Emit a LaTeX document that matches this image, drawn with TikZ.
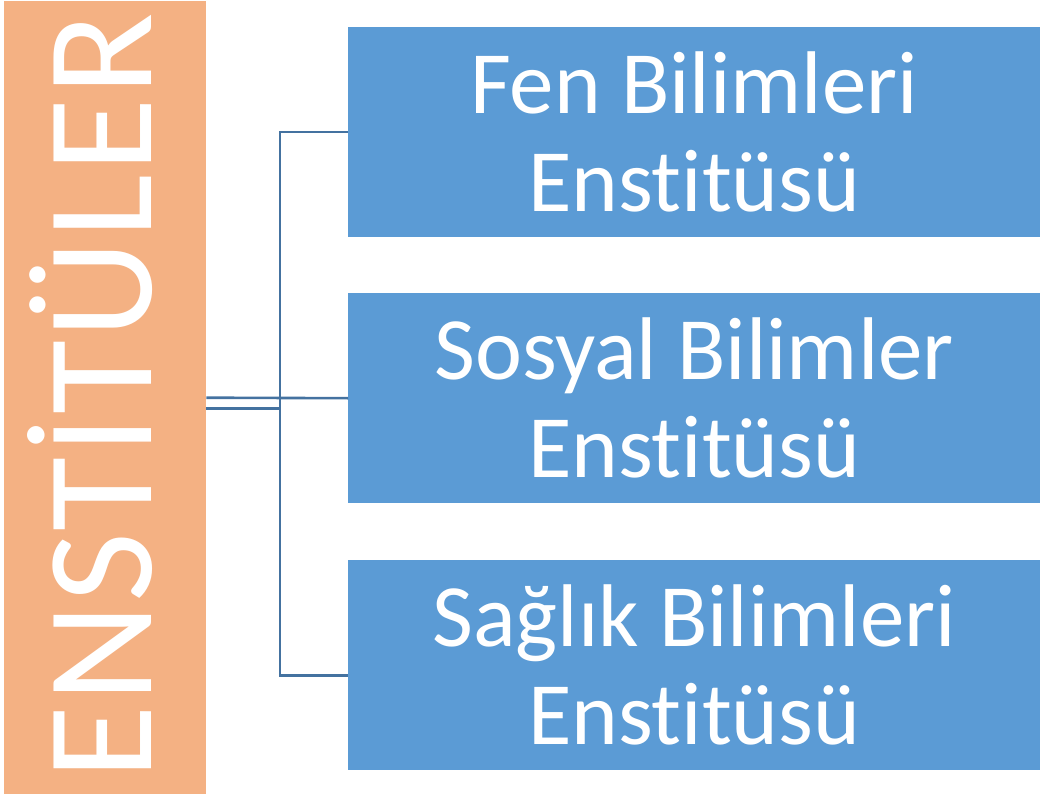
\documentclass[tikz,border=0pt]{standalone}
\usepackage{fontspec}
\setmainfont{Carlito}[Ligatures=CommonOff]
\newfontfamily\spacedfont{Carlito}[LetterSpace=1.5]
\definecolor{peach}{RGB}{244,177,131}
\definecolor{boxblue}{RGB}{91,155,213}
\definecolor{linkblue}{RGB}{68,114,160}
\usetikzlibrary{positioning}

\begin{document}
\begin{tikzpicture}[x=1pt, y=-1pt,
    unit/.style={fill=boxblue, text=white, align=center, inner sep=0pt,
        minimum width=692pt, minimum height=210pt, anchor=north west,
        font=\fontsize{89}{98}\selectfont},
    link/.style={draw=linkblue, line width=2.6pt}]
    \useasboundingbox (0,0) rectangle (1040,799);
    \node[fill=peach, inner sep=0pt, minimum width=202pt, minimum height=793pt, anchor=north west] (root) at (4,1) {};
    \node[rotate=90, text=white, inner sep=0pt, anchor=base] (rootlabel) at (151,396) {\spacedfont\fontsize{152}{152}\selectfont ENSTİTÜLER};
    \node[unit] (fen) at (348,27) {Fen Bilimleri\\Enstitüsü};
    \node[unit] (sosyal) at (348,293) {Sosyal Bilimler\\Enstitüsü};
    \node[unit] (saglik) at (348,560) {Sağlık Bilimleri\\Enstitüsü};
    \coordinate (bus) at (280,0);
    % baglantilar
    \draw[link] (root.east) -- (sosyal.west);
    \draw[link] ([yshift=-11pt]root.east) -- ([yshift=-11pt]bus |- root.east);
    \draw[link] (fen.west) -- (fen.west -| bus) -- ([yshift=-10pt]bus |- saglik.west) -- ([yshift=-10pt]saglik.west);
\end{tikzpicture}
\end{document}
